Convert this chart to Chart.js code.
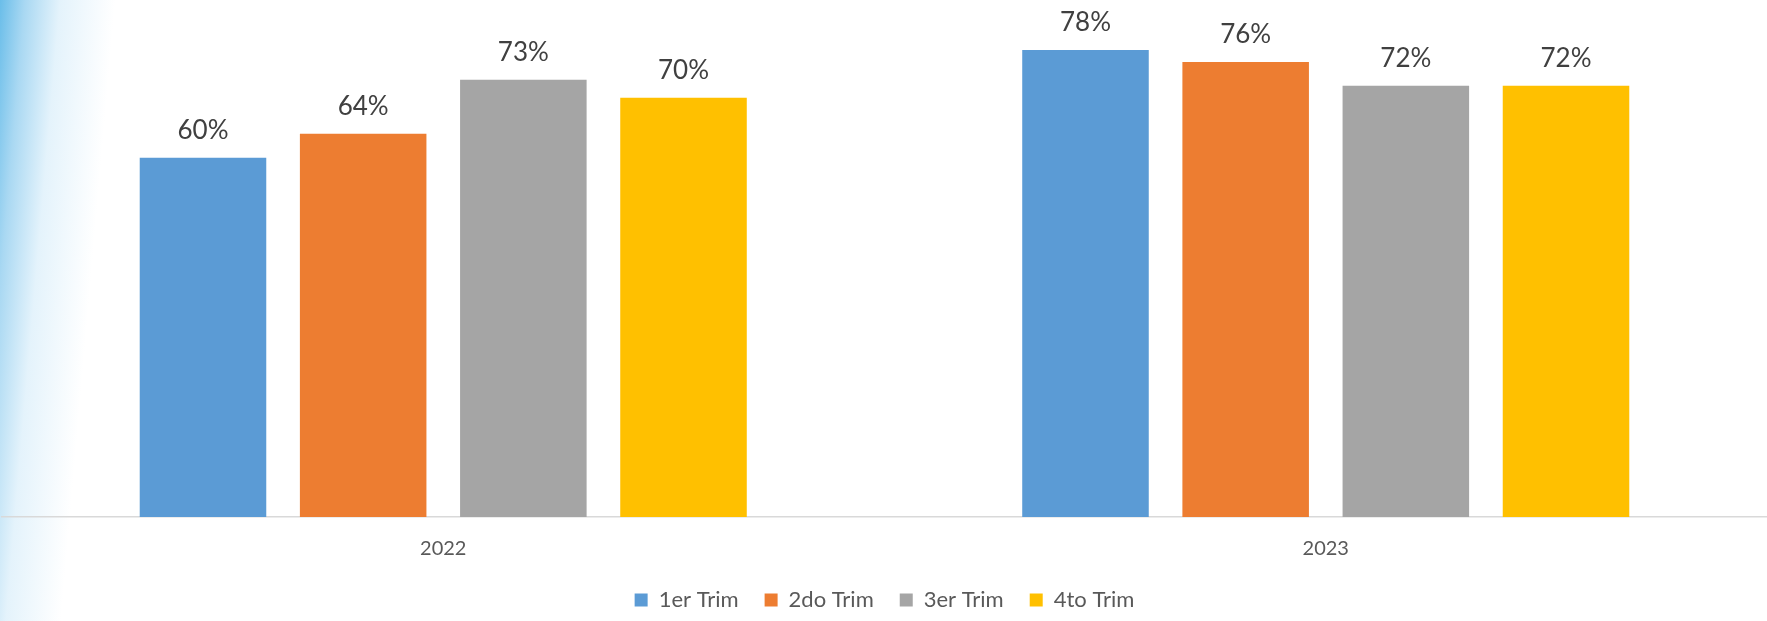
<!DOCTYPE html>
<html>
<head>
<meta charset="utf-8">
<script src="https://cdn.jsdelivr.net/npm/chart.js@4"></script>
<style>
  html, body { margin: 0; padding: 0; }
  body {
    width: 1767px;
    height: 621px;
    overflow: hidden;
    background:
      linear-gradient(95deg, rgba(98,186,232,0.95) 0px, rgba(140,203,238,0.75) 25px, rgba(195,228,247,0.45) 60px, rgba(255,255,255,0) 115px),
      #ffffff;
  }
  #wrap { position: relative; width: 1767px; height: 621px; }
</style>
</head>
<body>
<div id="wrap"><canvas id="chart"></canvas></div>
<script>
// Years on the x axis
const years = ['2022', '2023'];

// One series per quarter (percent)
const trim1 = [60, 78];
const trim2 = [64, 76];
const trim3 = [73, 72];
const trim4 = [70, 72];

const seriesNames = ['1er Trim', '2do Trim', '3er Trim', '4to Trim'];
const seriesColors = ['#5B9BD5', '#ED7D31', '#A5A5A5', '#FFC000'];

// Draws the "NN%" label over each bar
const barLabels = {
  id: 'barLabels',
  afterDatasetsDraw(chart) {
    const ctx = chart.ctx;
    ctx.save();
    ctx.font = '26px Lato';
    ctx.fillStyle = '#404040';
    ctx.textAlign = 'center';
    ctx.textBaseline = 'alphabetic';
    chart.data.datasets.forEach((ds, i) => {
      const meta = chart.getDatasetMeta(i);
      meta.data.forEach((bar, j) => {
        ctx.fillText(ds.data[j] + '%', bar.x, bar.y - 19);
      });
    });
    ctx.restore();
  }
};

const ctx = document.getElementById('chart').getContext('2d');

new Chart(ctx, {
  type: 'bar',
  data: {
    labels: years,
    datasets: [trim1, trim2, trim3, trim4].map((values, i) => ({
      label: seriesNames[i],
      data: values,
      backgroundColor: seriesColors[i],
      borderWidth: 0,
      barPercentage: 0.79,
      categoryPercentage: 0.726
    }))
  },
  options: {
    responsive: true,
    maintainAspectRatio: false,
    animation: false,
    layout: {
      padding: { top: 8, left: 2, right: 0, bottom: 0 }
    },
    plugins: {
      tooltip: { enabled: false },
      legend: {
        position: 'bottom',
        labels: {
          color: '#595959',
          boxWidth: 13,
          boxHeight: 13,
          padding: 26,
          font: { family: 'Lato', size: 22 }
        }
      }
    },
    scales: {
      y: {
        display: false,
        min: 0,
        max: 85
      },
      x: {
        grid: { display: false, drawTicks: false },
        border: { display: true, color: '#d9d9d9', width: 1.5 },
        ticks: {
          color: '#595959',
          padding: 20,
          font: { family: 'Lato', size: 20 }
        },
        // pull the plot down so the baseline sits where the reference has it
        afterFit(scale) {
          scale.height -= 18;
        }
      }
    }
  },
  plugins: [barLabels]
});
</script>
</body>
</html>
